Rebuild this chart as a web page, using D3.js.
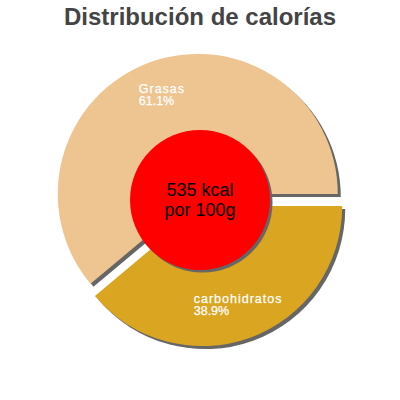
<!DOCTYPE html>
<html>
<head>
<meta charset="utf-8">
<script src="https://cdn.jsdelivr.net/npm/d3@7"></script>
<style>
  body { margin: 0; background: #fff; }
  text { font-family: "Liberation Sans", Arial, sans-serif; }
</style>
</head>
<body>
<div id="chart"></div>
<script>
// Data
const categories = ["Grasas", "carbohidratos"];
const shares = [61.1, 38.9];
const sliceColors = ["#eec591", "#daa520"];
const centerLines = ["535 kcal", "por 100g"];
const title = "Distribución de calorías";

const width = 400, height = 400,
      cx = 200, cy = 200,
      radius = 140, innerCircle = 70,
      explode = 6.5, labelRadius = 105;

let svg = d3.select("#chart")
            .append("svg")
                .attr("width", width)
                .attr("height", height);

// Title
svg.append("text")
    .attr("x", width / 2)
    .attr("y", 25)
    .attr("text-anchor", "middle")
    .style("font-size", "24px")
    .style("font-weight", "bold")
    .style("fill", "#444")
    .text(title);

const data = categories.map((c, i) => ({ name: c, value: shares[i], color: sliceColors[i] }));

// slices start at 3 o'clock and go counter-clockwise
const pie = d3.pie()
    .sort(null)
    .value(d => d.value)
    .startAngle(Math.PI / 2)
    .endAngle(Math.PI / 2 - 2 * Math.PI);

const arc = d3.arc().innerRadius(0).outerRadius(radius);

const slices = pie(data).map(d => {
    const mid = (d.startAngle + d.endAngle) / 2;
    d.ox = cx + Math.sin(mid) * explode;
    d.oy = cy - Math.cos(mid) * explode;
    d.mid = mid;
    return d;
});

// Shadows first
svg.append("g")
    .selectAll("path")
    .data(slices)
    .enter()
    .append("path")
        .attr("transform", d => "translate(" + (d.ox + 3) + "," + (d.oy + 3) + ")")
        .attr("d", arc)
        .style("fill", "#666");

svg.append("g")
    .selectAll("path")
    .data(slices)
    .enter()
    .append("path")
        .attr("transform", d => "translate(" + d.ox + "," + d.oy + ")")
        .attr("d", arc)
        .style("fill", d => d.data.color);

// Labels
slices.forEach(d => {
    const lx = d.ox + Math.sin(d.mid) * labelRadius;
    const ly = d.oy - Math.cos(d.mid) * labelRadius;
    const g = svg.append("g");
    const t = g.append("text")
        .style("fill", "#fff")
        .style("font-size", "12.5px")
        .style("stroke", "#fff")
        .style("stroke-width", "0.25px");
    t.append("tspan")
        .attr("x", 0).attr("y", 0)
        .style("letter-spacing", "1px")
        .text(d.data.name);
    t.append("tspan")
        .attr("x", 0).attr("y", 12.5)
        .text(d3.format(".1f")(d.data.value) + "%");
    const bb = t.node().getBBox();
    g.attr("transform", "translate(" + (lx - bb.x - bb.width / 2) + "," + (ly - bb.y - bb.height / 2) + ")");
});

// Centre circle
svg.append("circle")
    .attr("cx", cx + 2.5)
    .attr("cy", cy + 2.5)
    .attr("r", innerCircle)
    .style("fill", "#666");

svg.append("circle")
    .attr("cx", cx)
    .attr("cy", cy)
    .attr("r", innerCircle)
    .style("fill", "#ff0000");

svg.append("text")
    .attr("text-anchor", "middle")
    .style("font-size", "18px")
    .style("fill", "#000")
    .selectAll("tspan")
    .data(centerLines)
    .enter()
    .append("tspan")
        .attr("x", cx)
        .attr("y", (d, i) => 196 + i * 20)
        .text(d => d);
</script>
</body>
</html>
